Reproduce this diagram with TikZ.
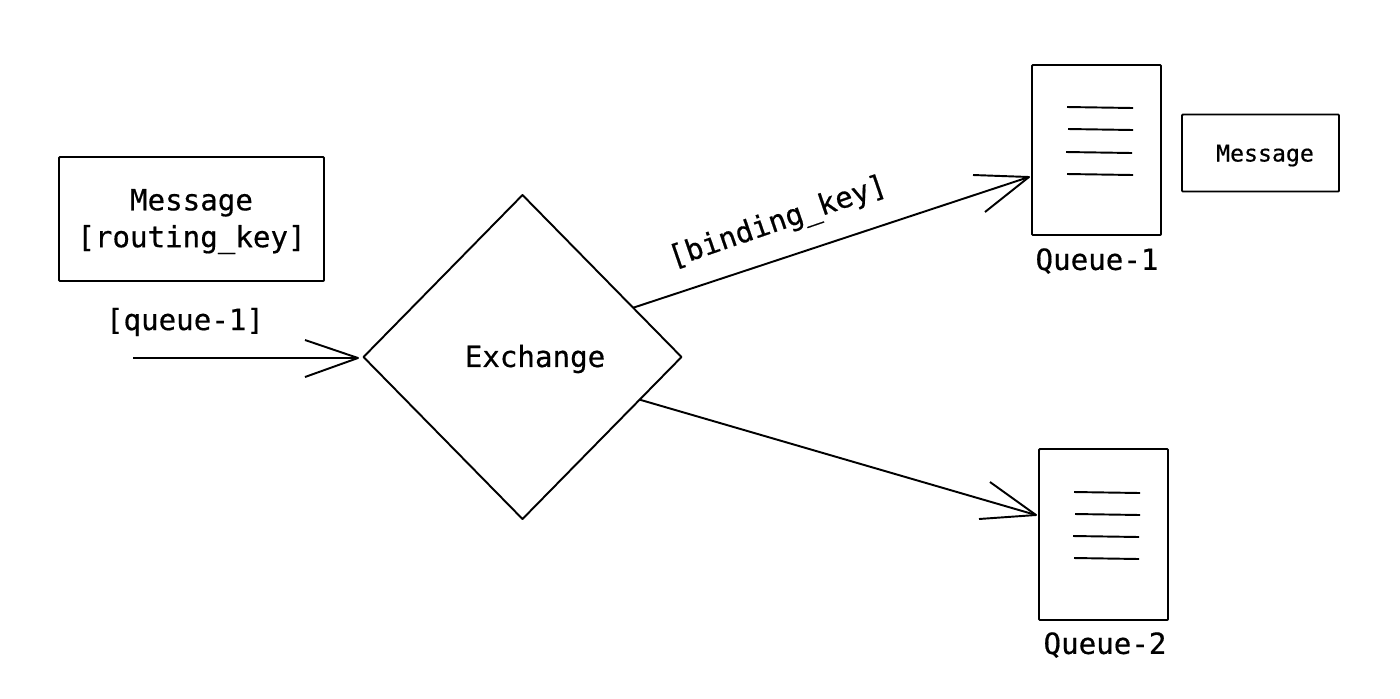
\documentclass[tikz,border=0pt]{standalone}
\usepackage{fontspec}
\setmonofont[FakeBold=0.5]{DejaVu Sans Mono}
\usetikzlibrary{shapes.geometric}

\newcommand{\pxscl}[1]{#1*0.02cm}
\newcommand{\boxn}{\node[draw, rectangle, rounded corners=0.5pt, inner sep=0pt, outer sep=0pt, align=center, font=\ttfamily\fontsize{16.6}{21}\selectfont]}
\newcommand{\txt}{\node[inner sep=0pt, font=\ttfamily\fontsize{16.6}{21}\selectfont]}

\begin{document}
\begin{tikzpicture}[x=0.02cm, y=-0.02cm, line width=1.1pt, line join=round]
    \useasboundingbox (0,0) rectangle (1400,698);

    \boxn[minimum width=\pxscl{265}, minimum height=\pxscl{124}] (msg) at (191.5,219) {\rule{0pt}{15pt}Message\\{}[routing\_key]};
    \boxn[minimum width=\pxscl{129}, minimum height=\pxscl{170}] (q1) at (1096.5,150) {};
    \boxn[minimum width=\pxscl{129}, minimum height=\pxscl{171}] (q2) at (1103.5,534.5) {};
    \boxn[minimum width=\pxscl{157}, minimum height=\pxscl{77}, font=\ttfamily\fontsize{13.2}{16}\selectfont] (qmsg) at (1260.5,153) {\rule{0pt}{12.5pt}\hspace{0.18cm}Message};
    \node[draw, diamond, aspect=1, inner sep=0pt, outer sep=0pt, minimum width=\pxscl{318}, minimum height=\pxscl{324}] (xchg) at (522.5,357) {};

    \txt (xlabel) at (535,359) {Exchange};
    \txt (rkey) at (185,322) {[queue-1]};
    \txt[rotate=19] (bkey) at (778,223) {[binding\_key]};
    \txt (q1label) at (1097,261) {Queue-1};
    \txt (q2label) at (1105,645) {Queue-2};

    \coordinate (start) at (133,358);
    \coordinate (xin) at (358,358);
    \coordinate (q1in) at (1029,177);
    \coordinate (q2in) at (1036,515);

    % connectors
    \draw (start) -- (xin);
    \draw (xchg.24.7) -- (q1in);
    \draw (xchg.-20) -- (q2in);

    % open heads, drawn by hand
    \draw
        (305,340) -- (xin) -- (305,377)
        (973,175) -- (q1in) -- (985,212)
        (990,482) -- (q2in) -- (979,519)
        ;

    % lines inside queue-1
    \draw
        (1067,107) -- (1133,108)
        (1068,129) -- (1133,130)
        (1066,152) -- (1132,153)
        (1067,174) -- (1133,175)
        ;

    % lines inside queue-2
    \draw
        (1074,492) -- (1140,493)
        (1075,514) -- (1140,515)
        (1073,536) -- (1139,537)
        (1074,558) -- (1139,559)
        ;
\end{tikzpicture}
\end{document}
